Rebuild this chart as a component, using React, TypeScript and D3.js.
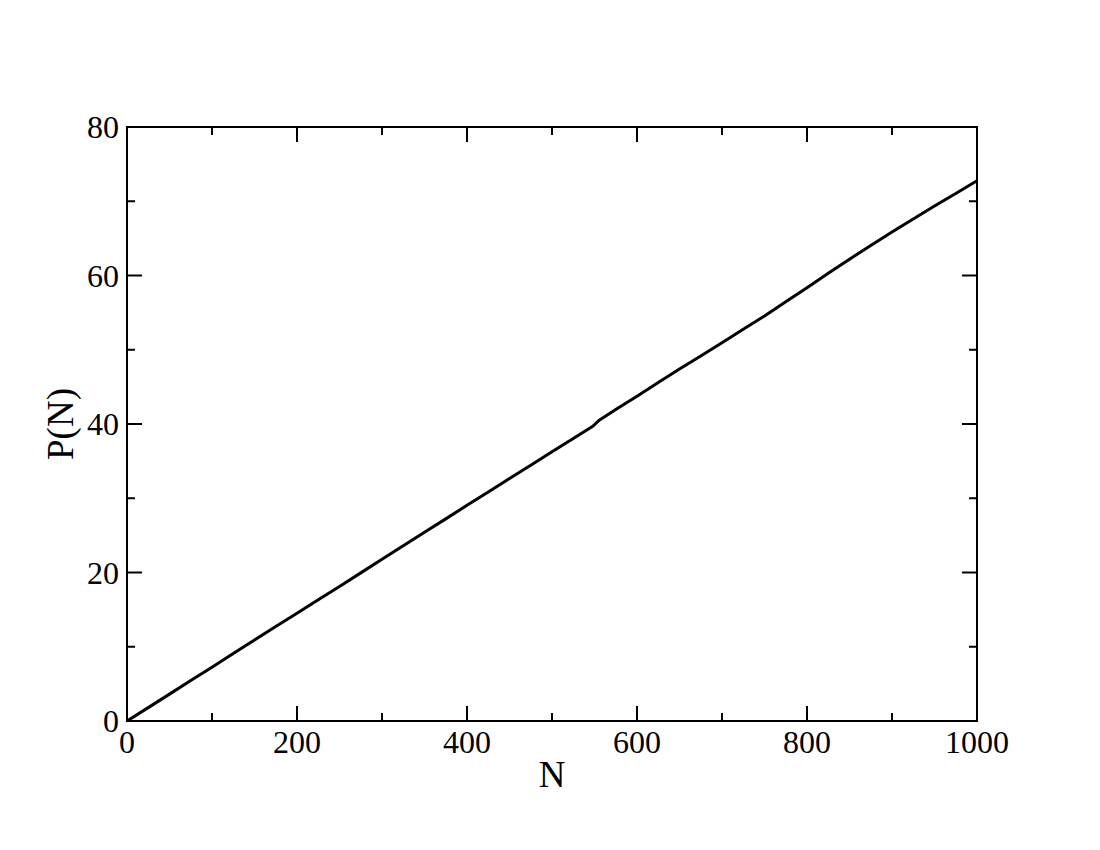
import React from "react";
import * as d3 from "d3";

const nValues = [0, 25, 50, 75, 100, 125, 150, 175, 200, 225, 250, 275, 300, 325, 350, 375, 400, 425, 450, 475, 500, 525, 548, 556, 575, 600, 625, 650, 675, 700, 725, 750, 775, 800, 825, 850, 875, 900, 925, 950, 975, 1000];
const pValues = [0, 1.8, 3.62, 5.45, 7.25, 9.1, 10.92, 12.72, 14.52, 16.32, 18.12, 19.95, 21.78, 23.6, 25.42, 27.22, 29.05, 30.85, 32.65, 34.45, 36.25, 38.05, 39.7, 40.55, 41.95, 43.75, 45.6, 47.4, 49.15, 50.95, 52.75, 54.55, 56.45, 58.35, 60.3, 62.2, 64.05, 65.85, 67.6, 69.35, 71.05, 72.75];
const xMajorTicks = [0, 200, 400, 600, 800, 1000];
const xMinorTicks = [100, 300, 500, 700, 900];
const yMajorTicks = [0, 20, 40, 60, 80];
const yMinorTicks = [10, 30, 50, 70];

const W = 1100, H = 850;
const L = 127, R = 977, T = 127, B = 721;

export default function App() {
  const x = d3.scaleLinear().domain([0, 1000]).range([L, R]);
  const y = d3.scaleLinear().domain([0, 80]).range([B, T]);
  const data = nValues.map((n, i) => [n, pValues[i]] as [number, number]);
  const line = d3.line<[number, number]>().x(d => x(d[0])).y(d => y(d[1]));
  const font = "'Liberation Serif', 'Times New Roman', serif";
  const major = 15, minor = 8;
  return (
    <svg width={W} height={H} style={{ position: "absolute", left: 0, top: 0, background: "#fff" }}>
      <rect x={0} y={0} width={W} height={H} fill="#fff" />
      <path d={line(data) || ""} fill="none" stroke="#000" strokeWidth={3} strokeLinejoin="round" />
      <rect x={L} y={T} width={R - L} height={B - T} fill="none" stroke="#000" strokeWidth={2} />
      {xMajorTicks.map(t => (
        <g key={"xm" + t}>
          <line x1={x(t)} x2={x(t)} y1={B} y2={B - major} stroke="#000" strokeWidth={2} />
          <line x1={x(t)} x2={x(t)} y1={T} y2={T + major} stroke="#000" strokeWidth={2} />
          <text x={x(t)} y={753} textAnchor="middle" fontFamily={font} fontSize={32}>{t}</text>
        </g>
      ))}
      {xMinorTicks.map(t => (
        <g key={"xn" + t}>
          <line x1={x(t)} x2={x(t)} y1={B} y2={B - minor} stroke="#000" strokeWidth={2} />
          <line x1={x(t)} x2={x(t)} y1={T} y2={T + minor} stroke="#000" strokeWidth={2} />
        </g>
      ))}
      {yMajorTicks.map(t => (
        <g key={"ym" + t}>
          <line x1={L} x2={L + major} y1={y(t)} y2={y(t)} stroke="#000" strokeWidth={2} />
          <line x1={R} x2={R - major} y1={y(t)} y2={y(t)} stroke="#000" strokeWidth={2} />
          <text x={119} y={y(t) + 11} textAnchor="end" fontFamily={font} fontSize={32}>{t}</text>
        </g>
      ))}
      {yMinorTicks.map(t => (
        <g key={"yn" + t}>
          <line x1={L} x2={L + minor} y1={y(t)} y2={y(t)} stroke="#000" strokeWidth={2} />
          <line x1={R} x2={R - minor} y1={y(t)} y2={y(t)} stroke="#000" strokeWidth={2} />
        </g>
      ))}
      <text x={(L + R) / 2} y={787} textAnchor="middle" fontFamily={font} fontSize={37}>N</text>
      <text transform={`translate(73,${(T + B) / 2}) rotate(-90)`} textAnchor="middle" fontFamily={font} fontSize={37}>P(N)</text>
    </svg>
  );
}
